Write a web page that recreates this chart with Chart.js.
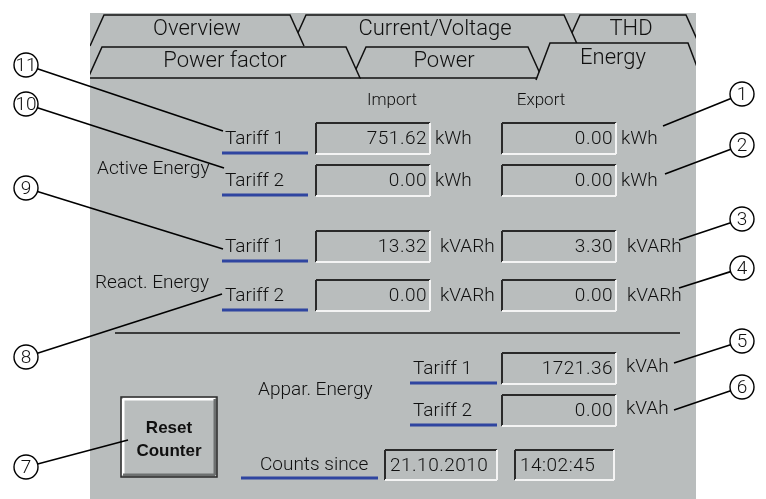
<!DOCTYPE html>
<html>
<head>
<meta charset="utf-8">
<script src="https://cdn.jsdelivr.net/npm/chart.js@4.4.1/dist/chart.umd.min.js"></script>
<style>
  html, body { margin: 0; padding: 0; background: #fff; }
  #wrap { width: 766px; height: 499px; }
</style>
</head>
<body>
<div id="wrap"><canvas id="energyPanel" width="766" height="499"></canvas></div>
<script>
// screen content
const tabRow1 = ['Overview', 'Current/Voltage', 'THD'];
const tabRow2 = ['Power factor', 'Power', 'Energy'];
const columnHeaders = ['Import', 'Export'];
const groupLabels = ['Active Energy', 'React. Energy', 'Appar. Energy'];
const tariffLabels = ['Tariff 1', 'Tariff 2'];
const units = ['kWh', 'kVARh', 'kVAh'];
const activeImport = [751.62, 0.00];
const activeExport = [0.00, 0.00];
const reactImport = [13.32, 0.00];
const reactExport = [3.30, 0.00];
const apparEnergy = [1721.36, 0.00];
const countsSince = ['21.10.2010', '14:02:45'];
const calloutsLeft = [11, 10, 9, 8, 7];
const calloutsRight = [1, 2, 3, 4, 5, 6];

const FONT = 'Roboto, "Liberation Sans", Arial, sans-serif';
const BOLD_FONT = '"Liberation Sans", Arial, sans-serif';
const GRAY = '#b9bdbd';
const DARK = '#101010';
const BLUE = '#2f45a0';

function drawPanel(chart) {
  const ctx = chart.ctx;
  const X = v => chart.scales.x.getPixelForValue(v);
  const Y = v => chart.scales.y.getPixelForValue(v);

  function text(str, x, y, size, align, bold, spacing) {
    ctx.font = bold ? 'bold ' + size + 'px ' + BOLD_FONT : '300 ' + size + 'px ' + FONT;
    ctx.textAlign = align || 'left';
    ctx.textBaseline = 'middle';
    ctx.letterSpacing = spacing || '0px';
    ctx.fillStyle = DARK;
    ctx.fillText(str, X(x), Y(y));
    ctx.letterSpacing = '0px';
  }

  function line(x0, y0, x1, y1, color, width) {
    ctx.beginPath();
    ctx.moveTo(X(x0), Y(y0));
    ctx.lineTo(X(x1), Y(y1));
    ctx.strokeStyle = color;
    ctx.lineWidth = width;
    ctx.stroke();
  }

  function tab(x0, x1, top, bottom, label, cx, cy, baseline) {
    const s = 14;
    ctx.beginPath();
    ctx.moveTo(X(x0), Y(bottom + 1));
    ctx.lineTo(X(x0 + s), Y(top));
    ctx.lineTo(X(x1 - s), Y(top));
    ctx.lineTo(X(x1), Y(bottom + 1));
    ctx.closePath();
    ctx.fillStyle = GRAY;
    ctx.fill();
    ctx.beginPath();
    ctx.moveTo(X(x0), Y(bottom));
    ctx.lineTo(X(x0 + s), Y(top));
    ctx.lineTo(X(x1 - s), Y(top));
    ctx.lineTo(X(x1), Y(bottom));
    if (baseline) ctx.closePath();
    ctx.strokeStyle = DARK;
    ctx.lineWidth = 1.5;
    ctx.stroke();
    text(label, cx, cy, 22, 'center');
  }

  // sunken value field
  function field(x0, y0, x1, y1, str, align) {
    ctx.fillStyle = GRAY;
    ctx.fillRect(X(x0), Y(y0), X(x1) - X(x0), Y(y1) - Y(y0));
    line(x0, y0, x1, y0, '#2a2a2a', 2);
    line(x0, y0, x0, y1, '#2a2a2a', 2);
    line(x0, y1, x1, y1, '#f4f4f4', 2);
    line(x1, y0, x1, y1, '#f4f4f4', 2);
    const cy = (y0 + y1) / 2 + 1;
    if (align === 'left') text(str, x0 + 5, cy, 19, 'left', false, '0.5px');
    else text(str, x1 - 3, cy, 19, 'right', false, '0.5px');
  }

  function tariff(label, x, y, x1) {
    text(label, x, y, 19, 'left');
    line(x - 3, y + 14, x1, y + 14, BLUE, 3);
  }

  function callout(num, cx, cy, tx, ty) {
    const r = 12;
    const dx = tx - cx, dy = ty - cy, d = Math.hypot(dx, dy);
    line(cx + r * dx / d, cy + r * dy / d, tx, ty, '#000', 1.6);
    ctx.beginPath();
    ctx.arc(X(cx), Y(cy), r, 0, Math.PI * 2);
    ctx.fillStyle = '#fff';
    ctx.fill();
    ctx.strokeStyle = '#000';
    ctx.lineWidth = 1.4;
    ctx.stroke();
    text(String(num), cx, cy + 1, 19, 'center');
  }

  ctx.save();
  ctx.fillStyle = '#fff';
  ctx.fillRect(0, 0, chart.width, chart.height);

  // panel + tabs, clipped to panel
  ctx.save();
  ctx.beginPath();
  ctx.rect(X(90), Y(13), X(696) - X(90), Y(499) - Y(13));
  ctx.clip();
  ctx.fillStyle = GRAY;
  ctx.fillRect(X(90), Y(13), X(696) - X(90), Y(499) - Y(13));

  tab(566, 700, 15, 46, tabRow1[2], 631, 29, false);
  tab(292, 578, 15, 46, tabRow1[1], 435, 29, false);
  tab(90, 304, 15, 46, tabRow1[0], 197, 29, false);

  tab(352, 542, 47, 78, tabRow2[1], 444, 61, true);
  tab(88, 360, 47, 78, tabRow2[0], 225, 61, true);
  tab(536, 702, 43, 80, tabRow2[2], 613, 58, false);
  ctx.restore();

  // headers
  text(columnHeaders[0], 392, 101, 17, 'center');
  text(columnHeaders[1], 541, 101, 17, 'center');

  // active energy
  text(groupLabels[0], 97, 169, 19, 'left');
  const rowsA = [139, 181];
  rowsA.forEach((y, i) => {
    tariff(tariffLabels[i], 225, y, 308);
    field(316, y - 16, 430, y + 15, activeImport[i].toFixed(2));
    text(units[0], 435, y, 19, 'left');
    field(502, y - 16, 616, y + 15, activeExport[i].toFixed(2));
    text(units[0], 621, y, 19, 'left');
  });

  // reactive energy
  text(groupLabels[1], 95, 283, 19, 'left');
  const rowsR = [247, 296];
  rowsR.forEach((y, i) => {
    tariff(tariffLabels[i], 225, y, 308);
    field(316, y - 16, 430, y + 15, reactImport[i].toFixed(2));
    text(units[1], 440, y, 19, 'left');
    field(502, y - 16, 616, y + 15, reactExport[i].toFixed(2));
    text(units[1], 627, y, 19, 'left');
  });

  line(115, 333, 680, 333, DARK, 1.5);

  // apparent energy
  text(groupLabels[2], 258, 390, 19, 'left');
  const rowsP = [369, 411];
  rowsP.forEach((y, i) => {
    tariff(tariffLabels[i], 413, y, 497);
    field(502, y - 16, 616, y + 15, apparEnergy[i].toFixed(2));
    text(units[2], 626, y - 2, 19, 'left');
  });

  // reset button
  ctx.fillStyle = GRAY;
  ctx.fillRect(X(121), Y(397), X(217) - X(121), Y(477) - Y(397));
  line(123, 399, 215, 399, '#ffffff', 3);
  line(123, 399, 123, 475, '#ffffff', 3);
  line(123, 475, 215, 475, '#6d7070', 3);
  line(215, 399, 215, 475, '#6d7070', 3);
  ctx.strokeStyle = '#2a2a2a';
  ctx.lineWidth = 1.5;
  ctx.strokeRect(X(121), Y(397), X(217) - X(121), Y(477) - Y(397));
  text('Reset', 169, 428, 17, 'center', true);
  text('Counter', 169, 451, 17, 'center', true);

  // counts since
  text('Counts since', 260, 465, 19, 'left');
  line(241, 478, 378, 478, BLUE, 3);
  field(385, 450, 497, 480, countsSince[0], 'left');
  field(515, 450, 614, 480, countsSince[1], 'left');

  // callouts
  const leftPos = [[65, 223, 131], [104, 224, 168], [188, 223, 249], [357, 222, 294], [467, 128, 440]];
  calloutsLeft.forEach((n, i) => callout(n, 26, leftPos[i][0], leftPos[i][1], leftPos[i][2]));
  const rightPos = [[94, 663, 126], [145, 665, 174], [219, 679, 240], [268, 679, 288], [341, 674, 363], [387, 674, 410]];
  calloutsRight.forEach((n, i) => callout(n, 742, rightPos[i][0], rightPos[i][1], rightPos[i][2]));

  ctx.restore();
}

new Chart(document.getElementById('energyPanel'), {
  type: 'scatter',
  data: { datasets: [{ data: [] }] },
  options: {
    responsive: false,
    animation: false,
    devicePixelRatio: 1,
    layout: { padding: 0 },
    plugins: { legend: { display: false }, tooltip: { enabled: false } },
    scales: {
      x: { type: 'linear', min: 0, max: 766, display: false },
      y: { type: 'linear', min: 0, max: 499, reverse: true, display: false }
    }
  },
  plugins: [{ id: 'energyPanel', afterDraw: drawPanel }]
});
</script>
</body>
</html>
